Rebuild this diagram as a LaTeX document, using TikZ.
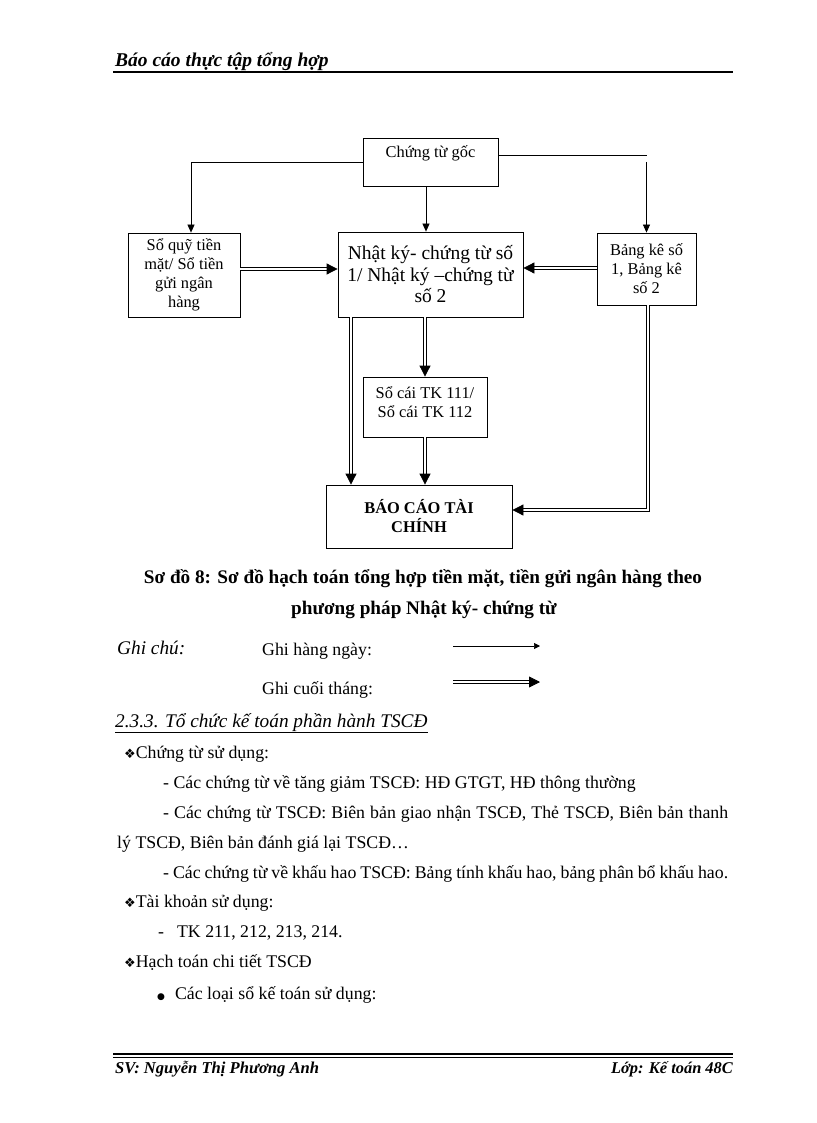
\documentclass[tikz,border=0pt]{standalone}
\usepackage{fontspec}
\setmainfont{Liberation Serif}
\newfontfamily\djv{DejaVu Sans}
\usetikzlibrary{arrows.meta}
\newcommand\myfs[2]{\fontsize{#1}{#2}\selectfont}
\begin{document}
\begin{tikzpicture}[x=1pt,y=-1pt,
 box/.style={draw, line width=0.8pt, inner sep=0pt, align=center},
 small/.style={font=\myfs{16.4}{19}},
 sarr/.style={line width=0.7pt, -{Triangle[length=8pt,width=7pt]}},
 darr/.style={double, double distance=2pt, line width=0.8pt, -{Triangle[length=11pt,width=11pt]}},
 txt/.style={inner sep=0pt, anchor=base west},
 body/.style={txt, font=\myfs{17.8}{21}},
]
\useasboundingbox (0,0) rectangle (816,1123);
\fill[white] (0,0) rectangle (816,1123);

% header
\node[txt, font=\myfs{19.5}{22}\bfseries\itshape] (hdr) at (115,67) {Báo cáo thực tập tổng hợp};
\draw[line width=2pt] (113,72) -- (733,72);

% boxes
\node[box, minimum width=135pt, minimum height=48pt] (ctg) at (430.5,162) {};
\node[small, inner sep=0pt] (ctgt) at (430.5,153) {Chứng từ gốc};
\node[box, small, minimum width=112pt, minimum height=84pt] (sq) at (184,275) {Sổ quỹ tiền\\mặt/ Sổ tiền\\gửi ngân\\hàng};
\node[box, font=\myfs{19.5}{21.5}\rmfamily, minimum width=185pt, minimum height=85pt] (nk) at (430.5,274.5) {Nhật ký- chứng từ số\\1/ Nhật ký –chứng từ\\số 2};
\node[box, small, minimum width=99pt, minimum height=72pt] (bk) at (646.5,269) {Bảng kê số\\1, Bảng kê\\số 2};
\node[box, minimum width=124pt, minimum height=60pt] (sc) at (425,407) {};
\node[small, inner sep=0pt, align=center] (sct) at (425,402) {Sổ cái TK 111/\\Sổ cái TK 112};
\node[box, font=\myfs{16.4}{19}\bfseries, minimum width=186pt, minimum height=63pt] (bc) at (419,516.5) {BÁO CÁO TÀI\\CHÍNH};

% single arrows
\draw[sarr] (ctg.west) -| ([xshift=7pt]sq.north);
\draw[line width=0.7pt] ([yshift=7pt]ctg.east) -- ([yshift=7pt]ctg.east -| bk.north);
\draw[sarr] (ctg.east -| bk.north) -- (bk.north);
\draw[sarr] ([xshift=-4.5pt]ctg.south) -- ([xshift=-4.5pt]ctg.south |- nk.north);

% double arrows
\draw[darr] ([yshift=6pt]sq.east) -- ([yshift=6pt]sq.east -| nk.west);
\draw[darr] ([yshift=1pt]bk.west) -- ([yshift=1pt]bk.west -| nk.east);
\draw[darr] ([xshift=-79.5pt]nk.south) -- ([xshift=-79.5pt]nk.south |- bc.north);
\draw[darr] (sc.north |- nk.south) -- (sc.north);
\draw[darr] (sc.south) -- (sc.south |- bc.north);
\draw[darr] ([xshift=1.5pt]bk.south) |- ([yshift=6.5pt]bc.east);

% caption
\node[inner sep=0pt, anchor=base, font=\myfs{19.2}{22}\bfseries] (cap1) at (423,583) {Sơ đồ 8: Sơ đồ hạch toán tổng hợp tiền mặt, tiền gửi ngân hàng theo};
\node[inner sep=0pt, anchor=base, font=\myfs{19.2}{22}\bfseries] (cap2) at (424,614) {phương pháp Nhật ký- chứng từ};

% legend
\node[txt, font=\myfs{19.3}{22}\itshape] (gc) at (117,654) {Ghi chú:};
\node[body] (g1) at (262,655) {Ghi hàng ngày:};
\node[body] (g2) at (262,694) {Ghi cuối tháng:};
\coordinate (l1a) at (453,646);
\coordinate (l1b) at (540,646);
\coordinate (l2a) at (453,682);
\coordinate (l2b) at (540,682);
\draw[line width=0.7pt, -{Triangle[length=6pt,width=6pt]}] (l1a) -- (l1b);
\draw[darr] (l2a) -- (l2b);

% section
\node[txt, font=\myfs{19.3}{22}\itshape] (sec) at (115,727) {\underline{2.3.3. Tổ chức kế toán phần hành TSCĐ}};
\node[body] (b1) at (124,758) {{\djv\myfs{13}{14}❖}Chứng từ sử dụng:};
\node[body] (b2) at (163,788) {- Các chứng từ về tăng giảm TSCĐ: HĐ GTGT, HĐ thông thường};
\node[body] (b3) at (163,818) {\makebox[565pt][s]{- Các chứng từ TSCĐ: Biên bản giao nhận TSCĐ, Thẻ TSCĐ, Biên bản thanh}};
\node[body] (b4) at (117,848) {lý TSCĐ, Biên bản đánh giá lại TSCĐ…};
\node[body] (b5) at (163,878) {\makebox[565pt][s]{- Các chứng từ về khấu hao TSCĐ: Bảng tính khấu hao, bảng phân bổ khấu hao.}};
\node[body] (b6) at (124,907) {{\djv\myfs{13}{14}❖}Tài khoản sử dụng:};
\node[body] (b7) at (158,937) {-\hspace{13pt}TK 211, 212, 213, 214.};
\node[body] (b8) at (124,967) {{\djv\myfs{13}{14}❖}Hạch toán chi tiết TSCĐ};
\node[body] (b9) at (157,999) {{\djv\myfs{9}{12}●}\hspace{10pt}Các loại sổ kế toán sử dụng:};

% footer
\draw[line width=1.6pt] (113,1054) -- (733,1054);
\draw[line width=0.7pt] (113,1057.5) -- (733,1057.5);
\node[txt, font=\myfs{16.6}{20}\bfseries\itshape] (ft1) at (115,1073) {SV: Nguyễn Thị Phương Anh};
\node[inner sep=0pt, anchor=base east, font=\myfs{16.4}{20}\bfseries\itshape] (ft2) at (733,1073) {Lớp: Kế toán 48C};
\end{tikzpicture}
\end{document}
